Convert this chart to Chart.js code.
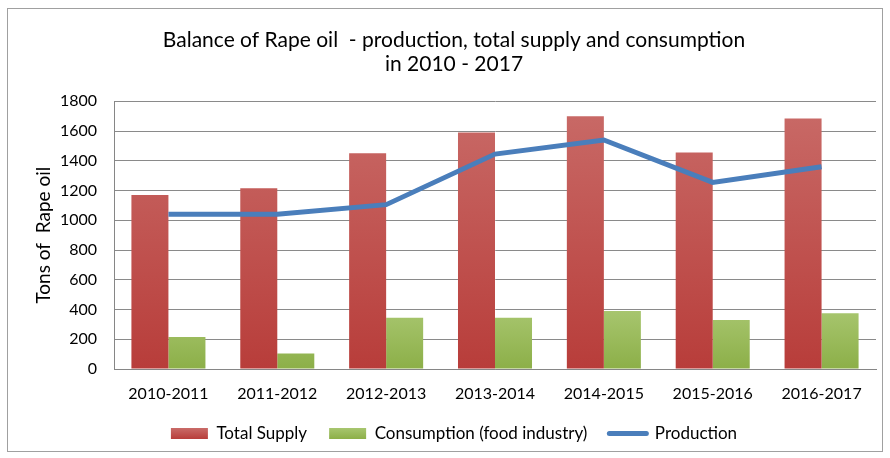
<!DOCTYPE html>
<html>
<head>
<meta charset="utf-8">
<script src="https://cdn.jsdelivr.net/npm/chart.js@4"></script>
<style>
  html, body { margin: 0; padding: 0; background: #fff; }
  #wrap { width: 890px; height: 458px; }
</style>
</head>
<body>
<div id="wrap"><canvas id="balanceChart" width="890" height="458"></canvas></div>
<script>
const seasons = ["2010-2011", "2011-2012", "2012-2013", "2013-2014", "2014-2015", "2015-2016", "2016-2017"];
const totalSupply = [1170, 1215, 1450, 1590, 1700, 1455, 1685];
const consumption = [215, 105, 345, 345, 390, 330, 375];
const production = [1040, 1040, 1105, 1445, 1540, 1255, 1360];
const yTicks = [0, 200, 400, 600, 800, 1000, 1200, 1400, 1600, 1800];

const FONT = "Lato, 'Open Sans', sans-serif";

function vGradient(ctx, area, top, bottom) {
    const g = ctx.createLinearGradient(0, area.top, 0, area.bottom);
    g.addColorStop(0, top);
    g.addColorStop(1, bottom);
    return g;
}

function redFill(c) {
    const area = c.chart.chartArea;
    if (!area) return "#c0504d";
    return vGradient(c.chart.ctx, area, "#c96b68", "#b83d3a");
}

function greenFill(c) {
    const area = c.chart.chartArea;
    if (!area) return "#9bbb59";
    return vGradient(c.chart.ctx, {top: area.bottom - 60, bottom: area.bottom}, "#a8c66f", "#8caf48");
}

const frame = {
    id: "frame",
    beforeDraw(chart) {
        const c = chart.ctx;
        c.save();
        c.fillStyle = "#fff";
        c.fillRect(0, 0, chart.width, chart.height);
        c.strokeStyle = "#a0a0a0";
        c.lineWidth = 1;
        c.strokeRect(7.5, 8.5, 875, 443);
        c.restore();
    }
};

new Chart(document.getElementById("balanceChart"), {
    type: "bar",
    data: {
        labels: seasons,
        datasets: [
            {
                type: "line",
                label: "Production",
                data: production,
                borderColor: "#4a7ebb",
                backgroundColor: "#4a7ebb",
                borderWidth: 5,
                pointRadius: 0,
                tension: 0,
                order: 0
            },
            {
                label: "Total Supply",
                data: totalSupply,
                backgroundColor: redFill,
                barPercentage: 1,
                categoryPercentage: 0.68,
                order: 1
            },
            {
                label: "Consumption (food industry)",
                data: consumption,
                backgroundColor: greenFill,
                barPercentage: 1,
                categoryPercentage: 0.68,
                order: 1
            }
        ]
    },
    options: {
        responsive: false,
        animation: false,
        layout: { padding: { left: 32, right: 14, top: 0, bottom: 6 } },
        plugins: {
            title: {
                display: true,
                text: ["Balance of Rape oil  - production, total supply and consumption", "in 2010 - 2017"],
                color: "#000",
                font: { family: FONT, size: 21, weight: "normal", lineHeight: 1.15 },
                padding: { top: 28, bottom: 25 }
            },
            legend: {
                position: "bottom",
                labels: {
                    color: "#000",
                    font: { family: FONT, size: 17 },
                    usePointStyle: true,
                    pointStyleWidth: 37,
                    boxHeight: 11,
                    padding: 22,
                    generateLabels(chart) {
                        const area = chart.chartArea;
                        const red = area ? vGradient(chart.ctx, {top: 428, bottom: 439}, "#c96b68", "#b83d3a") : "#c0504d";
                        const green = area ? vGradient(chart.ctx, {top: 428, bottom: 439}, "#a8c66f", "#8caf48") : "#9bbb59";
                        return [
                            { text: "Total Supply", fillStyle: red, strokeStyle: "rgba(0,0,0,0)", lineWidth: 0, pointStyle: "rect", datasetIndex: 1, fontColor: "#000" },
                            { text: "Consumption (food industry)", fillStyle: green, strokeStyle: "rgba(0,0,0,0)", lineWidth: 0, pointStyle: "rect", datasetIndex: 2, fontColor: "#000" },
                            { text: "Production", fillStyle: "#4a7ebb", strokeStyle: "#4a7ebb", lineWidth: 5, lineCap: "round", pointStyle: "line", datasetIndex: 0, fontColor: "#000" }
                        ];
                    }
                }
            },
            tooltip: { enabled: false }
        },
        scales: {
            x: {
                afterFit(scale) {
                    scale.height = 34;
                },
                grid: { display: false, drawTicks: false },
                border: { color: "#868686" },
                ticks: { color: "#000", font: { family: FONT, size: 16 }, padding: 15 }
            },
            y: {
                min: 0,
                max: 1800,
                afterBuildTicks(scale) {
                    scale.ticks = yTicks.map(v => ({ value: v }));
                },
                afterFit(scale) {
                    scale.width = 82;
                },
                grid: { color: "#8a8a8a", drawTicks: false },
                border: { color: "#868686" },
                ticks: {
                    color: "#000",
                    font: { family: FONT, size: 16 },
                    padding: 17,
                    callback: v => String(v)
                },
                title: {
                    display: true,
                    text: "Tons of  Rape oil",
                    color: "#000",
                    font: { family: FONT, size: 19 },
                    padding: { top: 0, bottom: 4 }
                }
            }
        }
    },
    plugins: [frame]
});
</script>
</body>
</html>
